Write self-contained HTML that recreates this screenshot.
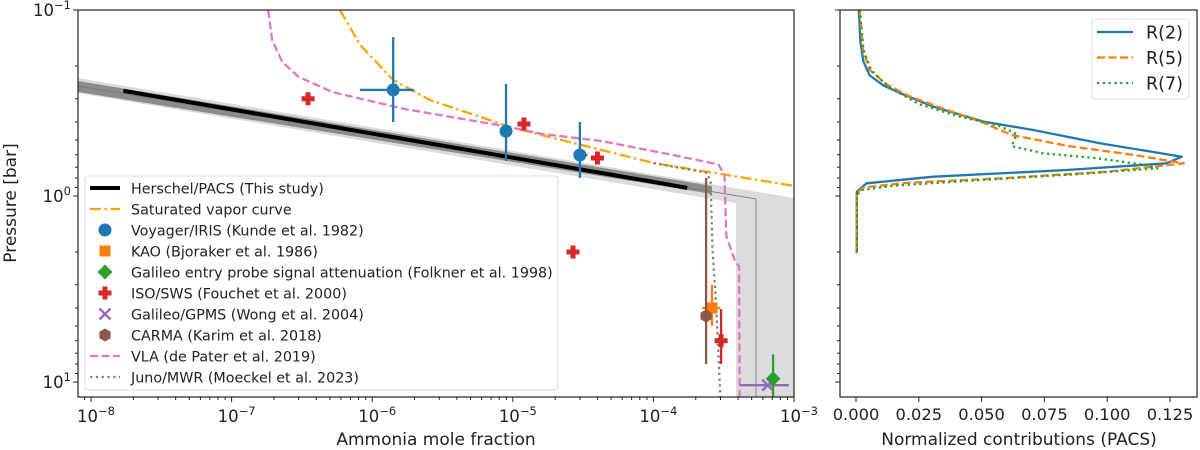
<!DOCTYPE html>
<html><head><meta charset="utf-8"><style>
html,body{margin:0;padding:0;background:#fff;width:1200px;height:450px;overflow:hidden;}
svg{display:block;font-family:"DejaVu Sans","Liberation Sans",sans-serif;}
</style></head><body>
<svg id="chart" width="1200" height="450" viewBox="0 0 1200 450" xmlns="http://www.w3.org/2000/svg"></svg>
<script>
// ---- data ----
const hxX=[1.7e-8,1e-4,1.74e-4];
const hxP=[0.272,0.84,0.906];
const satX=[5.9e-7,8.2e-7,1.41e-6,2.58e-6,1e-5,1e-4,1e-3];
const satP=[0.1,0.154,0.238,0.305,0.43,0.665,0.883];
const vlaX=[1.82e-7,1.94e-7,2.29e-7,3.0e-7,5.2e-7,1.4e-6,1.68e-6,8.4e-6,1.6e-5,4.3e-5,1.28e-4,2.9e-4,3.2e-4,3.3e-4,3.78e-4,4.07e-4,4.14e-4];
const vlaP=[0.1,0.145,0.19,0.229,0.276,0.329,0.34,0.419,0.463,0.507,0.595,0.676,0.767,1.64,2.2,2.4,4.7e1];
const junoX=[1e-4,2.4e-4,2.55e-4,2.63e-4,2.8e-4,3.0e-4];
const junoP=[0.665,0.75,0.84,1.9,4.0,12.5];
const irisX=[1.41e-6,8.95e-6,3.0e-5], irisP=[0.269,0.448,0.602];
const irisXlo=[8.2e-7,8.95e-6,2.7e-5], irisXhi=[1.98e-6,8.95e-6,3.4e-5];
const irisPlo=[0.14,0.25,0.40], irisPhi=[0.40,0.648,0.80];
const kaoX=[2.61e-4],kaoP=[4.0],kaoXlo=[2.22e-4],kaoXhi=[2.98e-4],kaoPlo=[3.0],kaoPhi=[5.0];
const galX=[7.1e-4],galP=[9.6],galXlo=[6.5e-4],galXhi=[7.8e-4],galPlo=[7.1],galPhi=[12.5];
const isoX=[3.5e-7,1.2e-5,4.0e-5,2.68e-5,3.03e-4], isoP=[0.30,0.41,0.625,2.0,6.0];
const isoPlo=[null,null,null,null,4.05], isoPhi=[null,null,null,null,8.0];
const gpmsX=[6.5e-4],gpmsP=[10.4],gpmsXlo=[4.1e-4],gpmsXhi=[9.2e-4];
const carmaX=[2.37e-4],carmaP=[4.42],carmaPlo=[0.80],carmaPhi=[8.0];
const r2C=[0.0011,0.0018,0.0030,0.0055,0.0110,0.0190,0.0308,0.0507,0.0706,0.0971,0.1297,0.1237,0.0839,0.0308,0.0042,0.0003,0.0003];
const r2P=[0.1,0.15,0.19,0.225,0.255,0.285,0.331,0.398,0.442,0.521,0.615,0.667,0.725,0.787,0.855,0.948,2.03];
const r5C=[0.0015,0.0028,0.0055,0.012,0.0210,0.035,0.050,0.062,0.085,0.110,0.1305,0.100,0.060,0.020,0.003,0.0003,0.0003];
const r5P=[0.1,0.164,0.210,0.250,0.290,0.340,0.400,0.470,0.540,0.600,0.667,0.740,0.800,0.850,0.900,0.960,2.03];
const r7C=[0.0015,0.0030,0.0060,0.013,0.025,0.040,0.057,0.064,0.062,0.075,0.095,0.115,0.120,0.090,0.050,0.015,0.002,0.0003,0.0003];
const r7P=[0.1,0.164,0.210,0.260,0.320,0.370,0.420,0.465,0.540,0.590,0.625,0.680,0.710,0.760,0.820,0.880,0.930,1.0,2.03];
const xTicksL=[-8,-7,-6,-5,-4,-3];
const yTicks=[-1,0,1];
const xTicksR=[0,0.025,0.05,0.075,0.1,0.125];

// ---- scales ----
const L={x0:78,x1:794,y0:10,y1:397};
const R={x0:840,x1:1197};
const xl=v=>91+(Math.log10(v)+8)*140.6;
const yp=p=>196+Math.log10(p)*186;
const xr=c=>856+c*2512;
const svg=document.getElementById('chart');
const NS='http://www.w3.org/2000/svg';
function el(tag,attrs,parent){const e=document.createElementNS(NS,tag);for(const k in attrs)e.setAttribute(k,attrs[k]);(parent||svg).appendChild(e);return e;}
function pts(xs,ys,fx,fy){return xs.map((v,i)=>fx(v).toFixed(1)+','+fy(ys[i]).toFixed(1)).join(' ');}

const defs=el('defs',{});
const cp=el('clipPath',{id:'cl'},defs);el('rect',{x:L.x0,y:L.y0,width:L.x1-L.x0,height:L.y1-L.y0},cp);
const cpr=el('clipPath',{id:'cr'},defs);el('rect',{x:R.x0,y:L.y0,width:R.x1-R.x0,height:L.y1-L.y0},cpr);
const gL=el('g',{'clip-path':'url(#cl)'});



let band=el('polygon',{points:'78,78 794,198 794,397 736,397 736,203 78,93',fill:'#dcdcdc'},gL);


let band2=el('polygon',{points:'78,81 700,184 712,186 712,194 700,192 78,92',fill:'#8c8c8c'},gL);


let gl=el('polyline',{points:'78,86 756,199 756,397',fill:'none',stroke:'#777',"stroke-width":0.8},gL);



let h=el('polyline',{points:pts(hxX,hxP,xl,yp),fill:'none',stroke:'#000','stroke-width':4},gL);


let s=el('polyline',{points:pts(satX,satP,xl,yp),fill:'none',stroke:'#ffa500','stroke-width':2.3,'stroke-dasharray':'11,3.5,2.5,3.5'},gL);


let v=el('polyline',{points:pts(vlaX,vlaP,xl,yp),fill:'none',stroke:'#e377c2','stroke-width':2.3,'stroke-dasharray':'8,3.5'},gL);


let j=el('polyline',{points:pts(junoX,junoP,xl,yp),fill:'none',stroke:'#7f7f7f','stroke-width':2.3,'stroke-dasharray':'2.3,3.5'},gL);



function errbar(x,p,xlo,xhi,plo,phi,color,w){
  if(xlo!=null) el('line',{x1:xl(xlo),x2:xl(xhi),y1:yp(p),y2:yp(p),stroke:color,'stroke-width':w||2.3},gL);
  if(plo!=null) el('line',{x1:xl(x),x2:xl(x),y1:yp(plo),y2:yp(phi),stroke:color,'stroke-width':w||2.3},gL);
}
irisX.forEach((x,i)=>{errbar(x,irisP[i],irisXlo[i],irisXhi[i],irisPlo[i],irisPhi[i],'#1f77b4');
  const c=el('circle',{cx:xl(x),cy:yp(irisP[i]),r:6.5,fill:'#1f77b4'},gL);
  
  });
kaoX.forEach((x,i)=>{errbar(x,kaoP[i],kaoXlo[i],kaoXhi[i],kaoPlo[i],kaoPhi[i],'#ff7f0e');
  const r=el('rect',{x:xl(x)-5.5,y:yp(kaoP[i])-5.5,width:11,height:11,fill:'#ff7f0e'},gL);
  
  });
carmaX.forEach((x,i)=>{errbar(x,carmaP[i],null,null,carmaPlo[i],carmaPhi[i],'#8c564b');
  const cx=xl(x),cy=yp(carmaP[i]);
  const hx=el('polygon',{points:[0,1,2,3,4,5].map(k=>{const a=Math.PI/3*k+Math.PI/6;return (cx+6.5*Math.cos(a)).toFixed(1)+','+(cy+6.5*Math.sin(a)).toFixed(1)}).join(' '),fill:'#8c564b'},gL);
  
  });
isoX.forEach((x,i)=>{errbar(x,isoP[i],null,null,isoPlo[i],isoPhi[i],'#d62728');
  const cx=xl(x),cy=yp(isoP[i]);
  const pl=el('path',{d:`M${cx-2.5},${cy-6.5}h5v4h4v5h-4v4h-5v-4h-4v-5h4z`,fill:'#d62728'},gL);
  
  });
gpmsX.forEach((x,i)=>{errbar(x,gpmsP[i],gpmsXlo[i],gpmsXhi[i],null,null,'#9467bd');
  const cx=xl(x),cy=yp(gpmsP[i]);
  const xm=el('path',{d:`M${cx-5.5},${cy-5.5}L${cx+5.5},${cy+5.5}M${cx-5.5},${cy+5.5}L${cx+5.5},${cy-5.5}`,stroke:'#9467bd','stroke-width':2.3},gL);
  
  });
galX.forEach((x,i)=>{errbar(x,galP[i],galXlo[i],galXhi[i],galPlo[i],galPhi[i],'#2ca02c');
  const cx=xl(x),cy=yp(galP[i]);
  const d=el('polygon',{points:`${cx},${cy-7.5} ${cx+7.5},${cy} ${cx},${cy+7.5} ${cx-7.5},${cy}`,fill:'#2ca02c'},gL);
  
  });

const gR=el('g',{'clip-path':'url(#cr)'});


[[r2C,r2P,'#1f77b4','','r2-curve'],[r5C,r5P,'#ff7f0e','8,3.5','r5-curve'],[r7C,r7P,'#2ca02c','2.3,3.5','r7-curve']].forEach(a=>{
  const pl=el('polyline',{points:pts(a[0],a[1],xr,yp),fill:'none',stroke:a[2],'stroke-width':2.3,'stroke-dasharray':a[3],'stroke-linejoin':'round'},gR);
  
  });

[[L.x0,L.x1,'left-axes-frame'],[R.x0,R.x1,'right-axes-frame']].forEach(a=>{
  const r=el('rect',{x:a[0],y:L.y0,width:a[1]-a[0],height:L.y1-L.y0,fill:'none',stroke:'#222','stroke-width':1.2});
  
  });

function sup(x,y,base,exp,anchor){
  const t=el('text',{x:x,y:y,'font-size':16.5,'text-anchor':anchor,fill:'#222'});
  const t1=document.createElementNS(NS,'tspan');t1.textContent=base;t.appendChild(t1);
  const t2=document.createElementNS(NS,'tspan');t2.setAttribute('dy','-7');t2.setAttribute('font-size','11.5');t2.textContent=exp;t.appendChild(t2);
  return t;}
xTicksL.forEach(e=>{
  const x=xl(Math.pow(10,e));
  el('line',{x1:x,x2:x,y1:L.y1,y2:L.y1+5,stroke:'#222'});
  const t=sup(x+5,L.y1+25,'10',e<0?'−'+(-e):''+e,'middle');
  
  
  for(let k=2;k<10&&e<-3;k++){const xm=xl(k*Math.pow(10,e));el('line',{x1:xm,x2:xm,y1:L.y1,y2:L.y1+3,stroke:'#222'});}
});
{const xm=xl(9e-9);if(xm>L.x0)el('line',{x1:xm,x2:xm,y1:L.y1,y2:L.y1+3,stroke:'#222'});}
yTicks.forEach(e=>{
  const y=yp(Math.pow(10,e));
  el('line',{x1:L.x0-5,x2:L.x0,y1:y,y2:y,stroke:'#222'});
  el('line',{x1:R.x0-5,x2:R.x0,y1:y,y2:y,stroke:'#222'});
  const t=sup(L.x0-7,y+6,'10',e<0?'−'+(-e):''+e,'end');
  
  
  for(let k=2;k<10;k++){const ym=yp(k*Math.pow(10,e));if(ym<=L.y1){el('line',{x1:L.x0-3,x2:L.x0,y1:ym,y2:ym,stroke:'#222'});el('line',{x1:R.x0-3,x2:R.x0,y1:ym,y2:ym,stroke:'#222'});}}
});
xTicksR.forEach(c=>{
  const x=xr(c);
  el('line',{x1:x,x2:x,y1:L.y1,y2:L.y1+5,stroke:'#222'});
  const t=el('text',{x:x,y:L.y1+23,'font-size':16.3,'text-anchor':'middle',fill:'#222'});
  t.textContent=c.toFixed(3);
  
  
});

let t=el('text',{x:436,y:445,'font-size':17,'text-anchor':'middle',fill:'#222'});t.textContent='Ammonia mole fraction';


t=el('text',{x:1019,y:445,'font-size':17,'text-anchor':'middle',fill:'#222'});t.textContent='Normalized contributions (PACS)';


t=el('text',{x:0,y:0,'font-size':17,'text-anchor':'middle',fill:'#222',transform:'translate(16,203) rotate(-90)'});t.textContent='Pressure [bar]';



const lg=el('g',{});


el('rect',{x:85,y:176,width:473,height:214,rx:3,fill:'rgba(255,255,255,0.85)',stroke:'#ddd'},lg);
const leg=[['line','#000','','Herschel/PACS (This study)'],['line','#ffa500','11,3.5,2.5,3.5','Saturated vapor curve'],['circle','#1f77b4','','Voyager/IRIS (Kunde et al. 1982)'],['square','#ff7f0e','','KAO (Bjoraker et al. 1986)'],['diamond','#2ca02c','','Galileo entry probe signal attenuation (Folkner et al. 1998)'],['plus','#d62728','','ISO/SWS (Fouchet et al. 2000)'],['x','#9467bd','','Galileo/GPMS (Wong et al. 2004)'],['hex','#8c564b','','CARMA (Karim et al. 2018)'],['line','#e377c2','8,3.5','VLA (de Pater et al. 2019)'],['line','#7f7f7f','2.3,3.5','Juno/MWR (Moeckel et al. 2023)']];
leg.forEach((e,i)=>{
  const y=188+i*21, cx=105;
  const g=el('g',{},lg);
  
  
  if(e[0]=='line')el('line',{x1:90,x2:120,y1:y,y2:y,stroke:e[1],'stroke-width':i==0?4:2.3,'stroke-dasharray':e[2]},g);
  else if(e[0]=='circle')el('circle',{cx:cx,cy:y,r:6.5,fill:e[1]},g);
  else if(e[0]=='square')el('rect',{x:cx-5.5,y:y-5.5,width:11,height:11,fill:e[1]},g);
  else if(e[0]=='diamond')el('polygon',{points:`${cx},${y-7.5} ${cx+7.5},${y} ${cx},${y+7.5} ${cx-7.5},${y}`,fill:e[1]},g);
  else if(e[0]=='plus')el('path',{d:`M${cx-2.5},${y-6.5}h5v4h4v5h-4v4h-5v-4h-4v-5h4z`,fill:e[1]},g);
  else if(e[0]=='x')el('path',{d:`M${cx-5.5},${y-5.5}L${cx+5.5},${y+5.5}M${cx-5.5},${y+5.5}L${cx+5.5},${y-5.5}`,stroke:e[1],'stroke-width':2.3},g);
  else el('polygon',{points:[0,1,2,3,4,5].map(k=>{const a=Math.PI/3*k+Math.PI/6;return (cx+6.5*Math.cos(a)).toFixed(1)+','+(y+6.5*Math.sin(a)).toFixed(1)}).join(' '),fill:e[1]},g);
  const tx=el('text',{x:131,y:y+5.5,'font-size':14.3,fill:'#222'},g);tx.textContent=e[3];
});

const rg=el('g',{});


el('rect',{x:1092,y:19,width:97,height:80,rx:3,fill:'#fff',stroke:'#ddd'},rg);
[['#1f77b4','','R(2)'],['#ff7f0e','8,3.5','R(5)'],['#2ca02c','2.3,3.5','R(7)']].forEach((e,i)=>{
  const y=32+i*25.5;
  const g=el('g',{},rg);
  
  
  el('line',{x1:1097,x2:1133,y1:y,y2:y,stroke:e[0],'stroke-width':2.3,'stroke-dasharray':e[1]},g);
  const tx=el('text',{x:1146,y:y+6.5,'font-size':17.5,fill:'#222'},g);tx.textContent=e[2];
});
</script>
</body></html>
